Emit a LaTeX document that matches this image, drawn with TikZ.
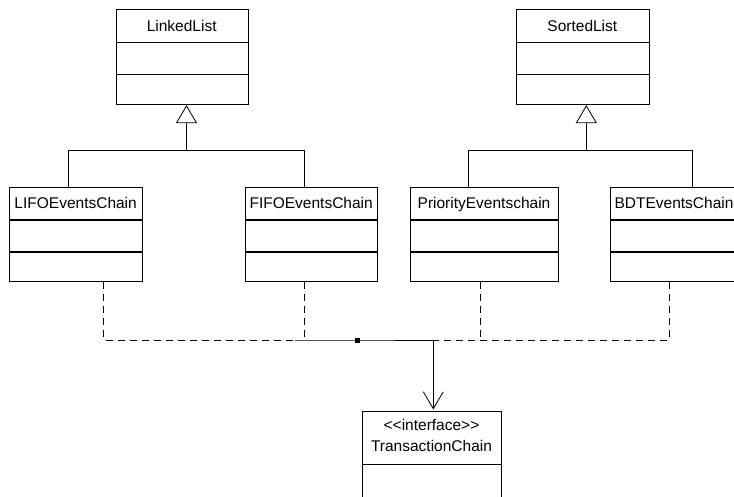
\documentclass[tikz,border=0pt]{standalone}
\usepackage{fontspec}
\setmainfont{Liberation Sans}
\usetikzlibrary{arrows.meta}

% A class box: name, left, top, right, bottom, first divider, second divider, title
\newcommand\classbox[8]{%
  \node[box, anchor=north west, minimum width={(#4-#2)*1pt},
        minimum height={(#5-#3)*1pt}] (#1) at (#2,#3) {};
  \draw[boxline] (#2,#6) -- (#4,#6);
  \draw[boxline] (#2,#7) -- (#4,#7);
  \node[title] at ({(#2+#4)/2},{#3+22.3}) {#8};
}

\begin{document}
\begin{tikzpicture}[x=1pt,y=-1pt,
  box/.style={draw, line width=1.1pt, inner sep=0pt, fill=white},
  boxline/.style={line width=1.1pt},
  title/.style={font=\fontsize{15.5}{18}\selectfont, inner sep=0pt, anchor=base},
  conn/.style={line width=0.8pt},
  realize/.style={conn, dash pattern=on 7pt off 5pt},
  gen/.style={conn, -{Triangle[open, length=18pt, width=21pt, fill=white, line width=0.8pt]}},
  dep/.style={conn, -{Straight Barb[length=17pt, width=20pt, line width=0.8pt]}}]

\path[use as bounding box, clip] (0,0) rectangle (734,497);

% parent classes
\classbox{ll}{115.7}{9.3}{247.7}{104}{42.7}{74.7}{LinkedList}
\classbox{sl}{516}{9.3}{648.7}{104}{42.7}{74.7}{SortedList}

% event chain classes
\classbox{lifo}{9}{186.7}{142.3}{281}{220}{252}{LIFOEventsChain}
\classbox{fifo}{245}{186.7}{377.3}{281}{220}{252}{FIFOEventsChain}
\classbox{prio}{410.3}{186.7}{557.7}{281}{220}{252}{PriorityEventschain}
\classbox{bdt}{610}{186.7}{738}{281}{220}{252}{BDTEventsChain}

% interface
\node[box, anchor=north west, minimum width=138.4pt, minimum height=120pt]
  (tc) at (362.3,411) {};
\draw[boxline] (362.3,464.3) -- (500.7,464.3);
\node[title] at (431.5,430.9) {<\kern0pt<interface>\kern0pt>};
\node[title] at (431.5,451.9) {TransactionChain};

% generalization: LinkedList
\coordinate (llL) at (68.3,150.7);
\coordinate (llR) at (304,150.7);
\coordinate (llFork) at (186.5,150.7);
\draw[conn] (lifo.north -| llL) -- (llL) -- (llR) -- (fifo.north -| llR);
\draw[gen] (llFork) -- (llFork |- ll.south);

% generalization: SortedList
\coordinate (slL) at (468.7,150.7);
\coordinate (slR) at (692.7,150.7);
\coordinate (slFork) at (586.3,150.7);
\draw[conn] (prio.north -| slL) -- (slL) -- (slR) -- (bdt.north -| slR);
\draw[gen] (slFork) -- (slFork |- sl.south);

% realization of TransactionChain
\coordinate (busL) at (103.5,340);
\coordinate (busF) at (304.3,340);
\coordinate (busP) at (480.8,340);
\coordinate (busB) at (669.3,340);
\coordinate (solidL) at (295,340);
\coordinate (bend) at (433.3,340);
\coordinate (hubPt) at (357.3,340);

\draw[realize] (lifo.south -| busL) -- (busL) -- (solidL);
\draw[realize] (fifo.south -| busF) -- (busF);
\draw[realize] (prio.south -| busP) -- (busP);
\draw[realize] (bdt.south -| busB) -- (busB) -- (bend);
\draw[conn] (solidL) -- (hubPt) -- (bend);
\node[fill, draw, line width=0.4pt, minimum width=4pt, minimum height=4pt,
      inner sep=0pt] (hub) at (hubPt) {};
\draw[dep, shorten >=1.5pt] (bend) -- (bend |- tc.north);
\end{tikzpicture}
\end{document}
